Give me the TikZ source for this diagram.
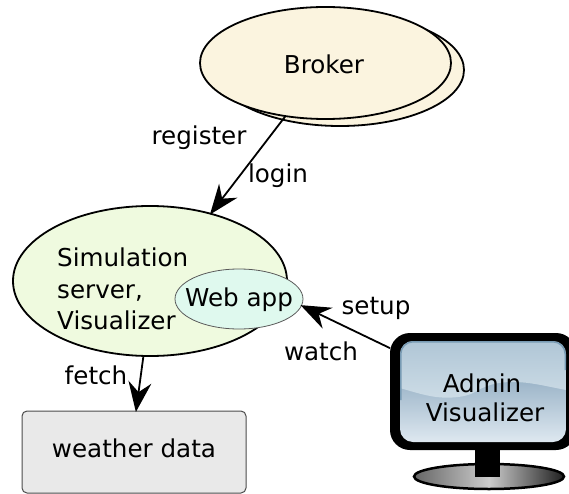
\documentclass[tikz,border=0pt]{standalone}
\usepackage{fontspec}
\setmainfont{DejaVu Sans}
\usetikzlibrary{shapes.geometric,arrows.meta,shadings,calc}
\definecolor{brokerfill}{HTML}{FBF4DF}
\definecolor{simfill}{HTML}{EFFADF}
\definecolor{webfill}{HTML}{DFF9EE}
\definecolor{datafill}{HTML}{E9E9E9}
\definecolor{screenhi}{RGB}{176,198,214}
\definecolor{screenmid}{RGB}{205,220,230}
\definecolor{screenlo}{RGB}{155,180,200}
\definecolor{screenbot}{RGB}{222,232,240}
\definecolor{screenedge}{RGB}{120,155,180}
\tikzset{
  x=1pt,y=-1pt,
  lbl/.style={font=\fontsize{24.6}{31.5}\selectfont,inner sep=0pt,text=black},
  oval/.style={shape=ellipse,draw=black,line width=1.8pt,inner sep=0pt,outer sep=0pt},
  conn/.style={draw=black,line width=1.8pt,-{Stealth[length=30pt,width=23pt,inset=10pt]},shorten >=-1pt},
}
\begin{document}
\begin{tikzpicture}
\useasboundingbox (0,0) rectangle (569,494);
% Broker
\node[oval,fill=brokerfill,minimum width=248pt,minimum height=112pt] (brokerback) at (340,70) {};
\node[oval,fill=brokerfill,minimum width=251pt,minimum height=112pt] (broker) at (325.5,63) {};
\node[lbl] (brokertext) at (324,64) {Broker};
% Simulation server
\node[oval,fill=simfill,minimum width=274pt,minimum height=150pt] (sim) at (150,281) {};
\node[lbl,align=left,anchor=west] (simtext) at (57,289) {Simulation\\server,\\Visualizer};
\node[shape=ellipse,draw=black!65,line width=0.8pt,fill=webfill,inner sep=0pt,outer sep=0pt,minimum width=128pt,minimum height=60pt] (web) at (239,299) {};
\node[lbl] (webtext) at (239,300) {Web app};
% Weather data
\node[draw=black!70,line width=1pt,fill=datafill,rounded corners=5pt,inner sep=0pt,outer sep=0pt,minimum width=224pt,minimum height=82pt] (data) at (134,452) {};
\node[lbl] (datatext) at (134,448) {weather data};
% Monitor
\shade[left color=black!60,right color=black!88,middle color=black!20,draw=black,line width=2.5pt] (489,476.5) ellipse [x radius=75,y radius=12.5];
\fill[black] (475,445) rectangle (500,477);
\node[fill=black,rounded corners=20pt,inner sep=0pt,outer sep=0pt,minimum width=186pt,minimum height=117pt] (monitor) at (483,391.5) {};
\begin{scope}
\clip[rounded corners=13pt] (400,341) rectangle (566,442);
\shade[top color=screenlo,bottom color=screenbot] (400,380) rectangle (566,442);
\shade[top color=screenhi,bottom color=screenmid] (400,341) -- (566,341) -- (566,390) .. controls (545,386) and (530,382) .. (513,382) .. controls (495,382) and (485,386) .. (475,392) .. controls (465,398) and (445,399) .. (430,396) .. controls (420,394) and (410,391) .. (400,388) -- cycle;
\draw[color=screenedge,line width=3pt,rounded corners=13pt] (400,400) -- (400,341) -- (566,341) -- (566,370);
\end{scope}
\node[lbl] (admintext) at (482,383) {Admin};
\node[lbl] (vistext) at (485,412) {Visualizer};
% Connectors
\draw[conn] (broker.233) -- (sim.48);
\draw[conn] (sim.265) -- ([xshift=2pt]data.north);
\draw[conn] (monitor.155) -- (web.-6);
% Labels
\node[lbl] (lregister) at (199,138) {register};
\node[lbl] (llogin) at (278,176) {login};
\node[lbl] (lfetch) at (96,375) {fetch};
\node[lbl] (lsetup) at (376,308) {setup};
\node[lbl] (lwatch) at (321,351) {watch};
\end{tikzpicture}
\end{document}
